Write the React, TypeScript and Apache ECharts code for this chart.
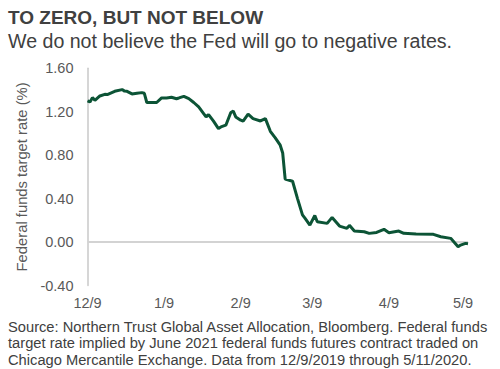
import React, { useEffect, useRef } from "react";
import * as echarts from "echarts";

// Calendar range of the x axis (categories are every calendar day)
const START_DATE = [2019, 12, 9];
const END_DATE = [2020, 5, 11];

// Sampled observations: day offset from 12/9/2019 and implied rate (%)
const dayOffsets = [
  0, 1, 2, 3, 5, 7, 8, 11, 14, 15, 16, 18, 20, 22, 23, 24, 28, 30, 32, 34, 36, 37, 39, 41, 43,
  45, 47, 48, 49, 51, 53, 54, 56, 58, 59, 60, 62, 63, 65, 67, 70, 72, 74, 76, 78, 79, 80, 83,
  85, 87, 88, 90, 92, 93, 97, 99, 102, 105, 106, 108, 112, 114, 117, 120, 122, 126, 128, 133,
  140, 143, 147, 150, 151, 153, 154,
];
const rates = [
  1.3, 1.29, 1.33, 1.305, 1.345, 1.36, 1.358, 1.388, 1.404, 1.39, 1.388, 1.364, 1.37, 1.376, 1.37,
  1.285, 1.285, 1.327, 1.327, 1.333, 1.32, 1.327, 1.342, 1.321, 1.285, 1.244, 1.183, 1.152, 1.174,
  1.113, 1.045, 1.06, 1.076, 1.193, 1.205, 1.152, 1.122, 1.113, 1.177, 1.137, 1.115, 1.137, 1.02,
  0.959, 0.892, 0.82, 0.58, 0.56, 0.4, 0.25, 0.22, 0.156, 0.245, 0.187, 0.172, 0.227, 0.147, 0.126,
  0.154, 0.101, 0.095, 0.08, 0.089, 0.117, 0.086, 0.101, 0.08, 0.074, 0.071, 0.049, 0.034, -0.043,
  -0.028, -0.012, -0.016,
];

const Y_MIN = -0.4;
const Y_MAX = 1.6;
const Y_INTERVAL = 0.4;

const TITLE = "TO ZERO, BUT NOT BELOW";
const SUBTITLE = "We do not believe the Fed will go to negative rates.";
const Y_NAME = "Federal funds target rate (%)";
const FOOTER = [
  "Source: Northern Trust Global Asset Allocation, Bloomberg. Federal funds",
  "target rate implied by June 2021 federal funds futures contract traded on",
  "Chicago Mercantile Exchange. Data from 12/9/2019 through 5/11/2020.",
];

const FONT = "'Liberation Sans', Arial, Helvetica, sans-serif";

function buildCategories(): string[] {
  const out: string[] = [];
  const d = new Date(START_DATE[0], START_DATE[1] - 1, START_DATE[2]);
  const end = new Date(END_DATE[0], END_DATE[1] - 1, END_DATE[2]);
  while (d.getTime() <= end.getTime()) {
    out.push(`${d.getMonth() + 1}/${d.getDate()}`);
    d.setDate(d.getDate() + 1);
  }
  return out;
}

export default function App() {
  const ref = useRef<HTMLDivElement>(null);
  useEffect(() => {
    if (!ref.current) return;
    const chart = echarts.init(ref.current, undefined, { renderer: "svg" });
    const categories = buildCategories();
    const seriesData = dayOffsets.map((off, i) => [categories[off], rates[i]]);

    chart.setOption({
      animation: false,
      backgroundColor: "#ffffff",
      grid: { left: 87.5, right: 32, top: 68.3, bottom: 83.5 },
      xAxis: {
        type: "category",
        data: categories,
        boundaryGap: false,
        axisLine: { show: false },
        axisTick: { show: false },
        splitLine: { show: false },
        axisLabel: {
          interval: (_i: number, v: string) => v.endsWith("/9"),
          color: "#595959",
          fontFamily: FONT,
          fontSize: 14.5,
          margin: 10,
        },
      },
      yAxis: {
        type: "value",
        min: Y_MIN,
        max: Y_MAX,
        interval: Y_INTERVAL,
        name: Y_NAME,
        nameLocation: "middle",
        nameGap: 57,
        nameTextStyle: { color: "#595959", fontFamily: FONT, fontSize: 14.8 },
        axisLine: { show: true, lineStyle: { color: "#c9c9c9", width: 1.5 } },
        axisTick: { show: false },
        splitLine: { show: false },
        axisLabel: {
          color: "#595959",
          fontFamily: FONT,
          fontSize: 14.5,
          margin: 14,
          formatter: (v: number) => v.toFixed(2),
        },
      },
      series: [
        {
          type: "line",
          data: seriesData,
          showSymbol: false,
          symbol: "none",
          lineStyle: { color: "#0c5436", width: 3 },
          markLine: {
            silent: true,
            symbol: "none",
            label: { show: false },
            lineStyle: { color: "#d3d3d3", width: 2, type: "solid" },
            data: [{ yAxis: 0 }],
            z: 1,
          },
          z: 3,
        },
      ],
      graphic: [
        {
          type: "text",
          left: 8,
          top: 8,
          style: {
            text: TITLE,
            fontFamily: FONT,
            fontWeight: "bold",
            fontSize: 19,
            fill: "#404040",
          },
        },
        {
          type: "text",
          left: 8,
          top: 31,
          style: {
            text: SUBTITLE,
            fontFamily: FONT,
            fontSize: 19.6,
            fill: "#404040",
          },
        },
        ...FOOTER.map((line, i) => ({
          type: "text",
          left: 8,
          top: 319 + i * 16.5,
          style: {
            text: line,
            fontFamily: FONT,
            fontSize: 14.7,
            fill: "#404040",
          },
        })),
      ],
    });
    return () => chart.dispose();
  }, []);
  return (
    <div
      ref={ref}
      style={{ position: "absolute", left: 0, top: 0, width: 500, height: 369 }}
    />
  );
}
